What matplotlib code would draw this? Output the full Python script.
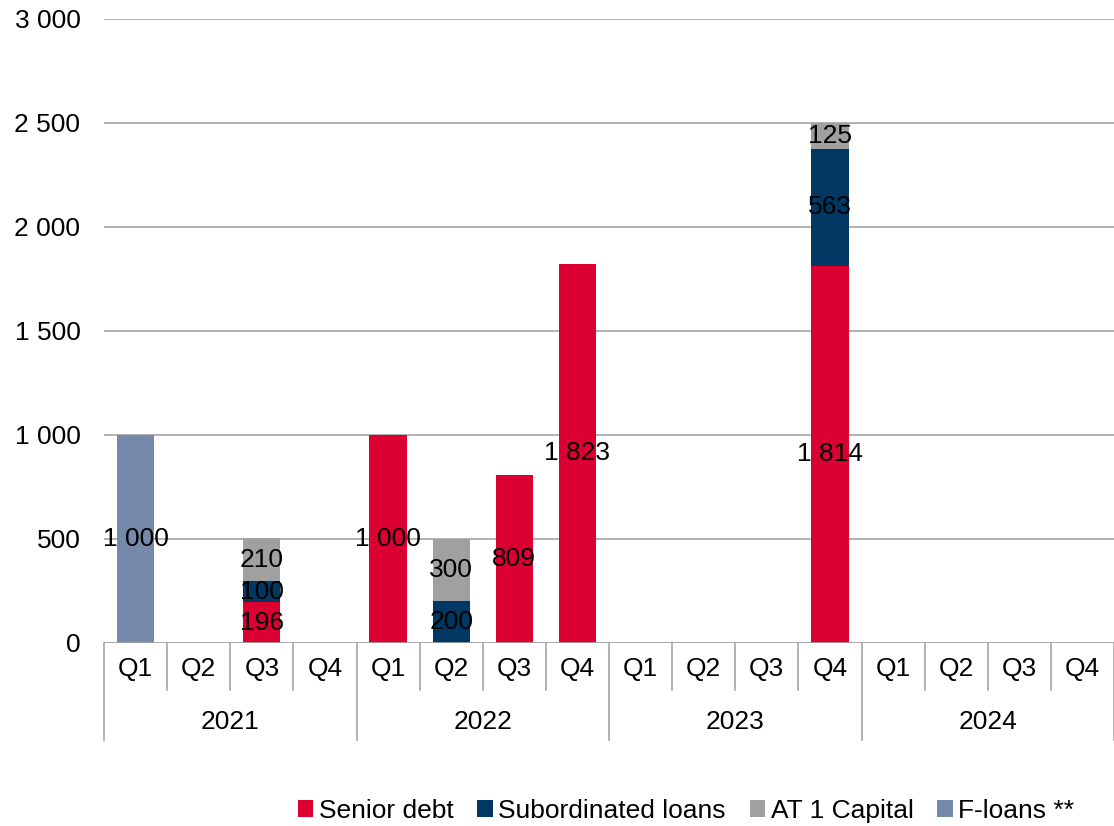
import matplotlib.pyplot as plt
import numpy as np

plt.rcParams['font.family'] = ['Liberation Sans', 'DejaVu Sans']

#----------------------DATA------------------------
quarters = ['Q1', 'Q2', 'Q3', 'Q4'] * 4
years = ['2021', '2022', '2023', '2024']
senior_debt = [0, 0, 196, 0, 1000, 0, 809, 1823, 0, 0, 0, 1814, 0, 0, 0, 0]
subordinated = [0, 0, 100, 0, 0, 200, 0, 0, 0, 0, 0, 563, 0, 0, 0, 0]
at1_capital = [0, 0, 210, 0, 0, 300, 0, 0, 0, 0, 0, 125, 0, 0, 0, 0]
f_loans = [1000, 0, 0, 0, 0, 0, 0, 0, 0, 0, 0, 0, 0, 0, 0, 0]

series = [
    ("Senior debt", senior_debt, "#DC0032"),
    ("Subordinated loans", subordinated, "#003763"),
    ("AT 1 Capital", at1_capital, "#A0A0A0"),
    ("F-loans **", f_loans, "#7689AB"),
]

FS = 19
GRID = "#A6A6A6"


def fmt(v):
    # thousands separated by a space, e.g. 1 000
    return "{:,}".format(int(v)).replace(",", " ")


W, H = 1114, 826
fig = plt.figure(figsize=(W / 100, H / 100), dpi=100)
ax = fig.add_axes([104 / W, 1 - 643 / H, (W - 104) / W, 624 / H])

x = np.arange(len(quarters))
bottom = np.zeros(len(quarters))
for name, vals, col in series:
    vals = np.array(vals, dtype=float)
    bars = ax.bar(x, vals, 0.59, bottom=bottom, color=col, label=name, zorder=2)
    labels = [fmt(v) if v > 0 else "" for v in vals]
    ax.bar_label(bars, labels=labels, label_type='center', fontsize=FS, color='black')
    bottom += vals

ax.set_xlim(-0.5, len(quarters) - 0.5)
ax.set_ylim(0, 3000)
ax.set_yticks(np.arange(0, 3001, 500))
ax.set_yticklabels([fmt(v) for v in np.arange(0, 3001, 500)], fontsize=FS)
ax.tick_params(axis='y', length=0, pad=17)
ax.set_xticks([])
ax.yaxis.grid(True, color=GRID, linewidth=1.2, zorder=0)
for s in ax.spines.values():
    s.set_visible(False)
ax.axhline(0, color=GRID, linewidth=1.2, zorder=3)

# two-level category axis
trans = ax.get_xaxis_transform()
for i, q in enumerate(quarters):
    ax.text(i, -0.042, q, transform=trans, ha='center', va='center', fontsize=FS)
for j, yr in enumerate(years):
    ax.text(4 * j + 1.5, -0.126, yr, transform=trans, ha='center', va='center', fontsize=FS)
for b in np.arange(-0.5, len(quarters), 1.0):
    low = -0.155 if (b + 0.5) % 4 == 0 else -0.075
    ax.plot([b, b], [0, low], transform=trans, color=GRID, linewidth=1.2, clip_on=False)

fig.legend(loc='center', bbox_to_anchor=(686 / W, 1 - 811 / H), ncol=4, frameon=False,
           fontsize=FS, handlelength=0.6, handleheight=0.6, handletextpad=0.2,
           columnspacing=0.9, borderaxespad=0)

fig.savefig("out.png", dpi=100)
